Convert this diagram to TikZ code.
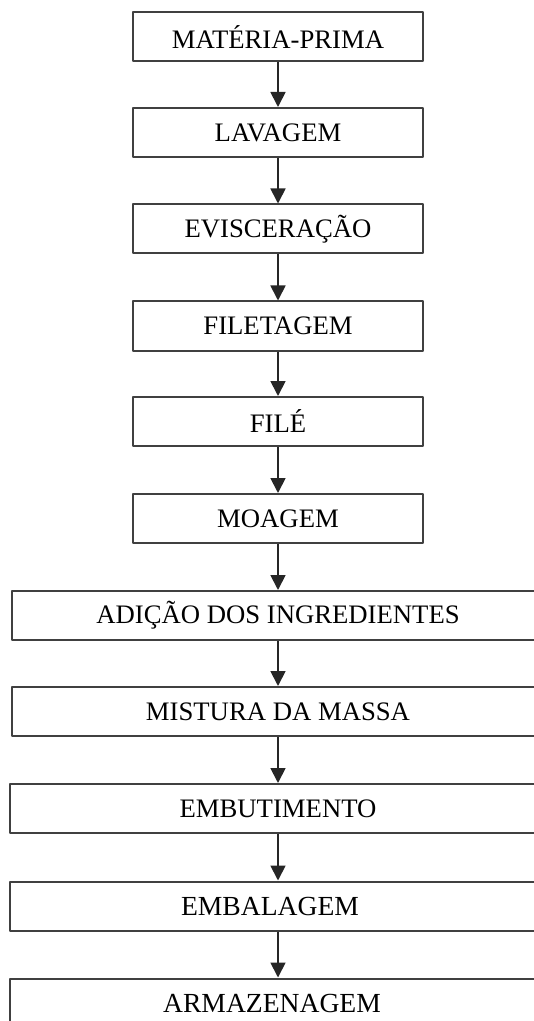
\documentclass[tikz,border=0pt]{standalone}
\usepackage{fontspec}
\setmainfont{Liberation Serif}
\usetikzlibrary{arrows.meta}

\begin{document}
\begin{tikzpicture}[x=0.5pt,y=-0.5pt,line join=round,>={Triangle[length=7.5pt,width=7.5pt]}]
		\def\xc{278}
		\tikzset{etapa/.style={draw=black!75,line width=1pt,minimum width=145pt,minimum height=24.5pt,inner sep=0pt,font=\fontsize{13.35}{16}\selectfont},
			etapalarga/.style={etapa,minimum width=266pt},
			seta/.style={->,line width=0.9pt,draw=black!85}}
		\useasboundingbox (0,0) rectangle (534,1021);
		\clip (0,0) rectangle (534,1021);
		\node[etapa] (materia) at (\xc,37) {MATÉRIA-PRIMA};
		\node[etapa] (lavagem) at (\xc,132.5) {LAVAGEM};
		\node[etapa] (evisceracao) at (\xc,229) {EVISCERAÇÃO};
		\node[etapa] (filetagem) at (\xc,326) {FILETAGEM};
		\node[etapa] (file) at (\xc,421.5) {FILÉ};
		\node[etapa] (moagem) at (\xc,518.5) {MOAGEM};
		\node[etapalarga] (adicao) at (\xc,615.5) {ADIÇÃO DOS INGREDIENTES};
		\node[etapalarga] (mistura) at (\xc,711.5) {MISTURA DA MASSA};
		\node[etapalarga,minimum width=268.5pt] (embutimento) at (\xc,808.5) {EMBUTIMENTO};
		\node[etapalarga,minimum width=268.5pt,font=\fontsize{13.8}{16}\selectfont] (embalagem) at (\xc,906) {\hspace*{-8pt}EMBALAGEM};
		\node[etapalarga,minimum width=268.5pt,font=\fontsize{13.8}{16}\selectfont] (armazenagem) at (\xc,1003) {\hspace*{-6pt}ARMAZENAGEM};
		\draw[seta] (materia) -- (lavagem);
		\draw[seta] (lavagem) -- (evisceracao);
		\draw[seta] (evisceracao) -- (filetagem);
		\draw[seta] (filetagem) -- (file);
		\draw[seta] (file) -- (moagem);
		\draw[seta] (moagem) -- (adicao);
		\draw[seta] (adicao) -- (mistura);
		\draw[seta] (mistura) -- (embutimento);
		\draw[seta] (embutimento) -- (embalagem);
		\draw[seta] (embalagem) -- (armazenagem);
\end{tikzpicture}
\end{document}
